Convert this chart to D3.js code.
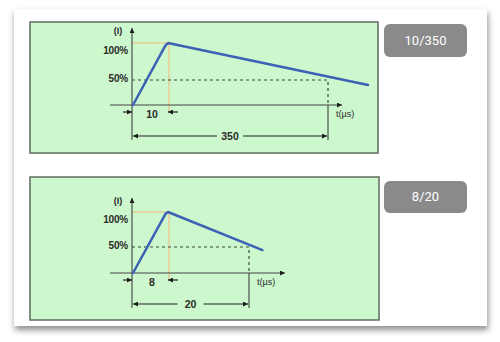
<!DOCTYPE html>
<html>
<head>
<meta charset="utf-8">
<script src="https://cdn.jsdelivr.net/npm/d3@7"></script>
<style>
  body { margin: 0; background: #fff; }
</style>
</head>
<body>
<div id="chart"></div>
<script>
// pulse waveform data (t in µs, I in % of peak)
const badgeLabels = ["10/350", "8/20"];
const pulseT_10_350 = [0, 9.2, 10, 435];
const pulseI_10_350 = [0, 96, 100, 40];
const pulseT_8_20 = [0, 7.4, 8, 22];
const pulseI_8_20 = [0, 97, 100, 44];
const riseTimes = [10, 8];
const halfTimes = [350, 20];
const levelValues = [100, 50];
const levelLabels = ["100%", "50%"];

const W = 500, H = 342;
const green = "#cdf7cd";
const ink = "#2b2b2b";
const font = "Liberation Sans, Arial, sans-serif";

const svg = d3.select("#chart").append("svg")
    .attr("width", W).attr("height", H);

const defs = svg.append("defs");
const shadow = defs.append("filter").attr("id", "shadow")
    .attr("x", "-5%").attr("y", "-5%").attr("width", "110%").attr("height", "115%");
shadow.append("feDropShadow")
    .attr("dx", 1).attr("dy", 4).attr("stdDeviation", 3)
    .attr("flood-color", "#000").attr("flood-opacity", 0.45);

function arrowHead(id, color) {
    defs.append("marker").attr("id", id)
        .attr("viewBox", "0 0 10 10").attr("refX", 10).attr("refY", 5)
        .attr("markerWidth", 7).attr("markerHeight", 5)
        .attr("markerUnits", "userSpaceOnUse")
        .attr("orient", "auto-start-reverse")
        .append("path").attr("d", "M0,0L10,5L0,10Z").attr("fill", color);
}
arrowHead("arr", "#1e1e1e");

// white card
svg.append("rect")
    .attr("x", 14).attr("y", 9).attr("width", 473).attr("height", 317)
    .attr("fill", "#fff").attr("filter", "url(#shadow)");

const panels = [
    { box: [30, 22, 348, 131], xr: [133, 168, 328], yr: [105, 80, 43], axisTop: 28, axisEnd: 342,
      dimY1: 112, dimY2: 136, badge: [384, 24, 83, 33],
      t: pulseT_10_350, i: pulseI_10_350 },
    { box: [30, 177, 349, 143], xr: [133, 168, 249], yr: [273, 247, 212], axisTop: 198, axisEnd: 285,
      dimY1: 280, dimY2: 304, badge: [384, 181, 83, 32],
      t: pulseT_8_20, i: pulseI_8_20 }
];

panels.forEach(function (p, k) {
    const g = svg.append("g");
    const rise = riseTimes[k], half = halfTimes[k];

    const x = d3.scaleLinear().domain([0, rise, half]).range(p.xr);
    const y = d3.scaleLinear().domain([0, 50, 100]).range(p.yr);
    const x0 = x(0) - 1, base = y(0);

    g.append("rect")
        .attr("x", p.box[0]).attr("y", p.box[1])
        .attr("width", p.box[2]).attr("height", p.box[3])
        .attr("fill", green).attr("stroke", "#5d6b5d").attr("stroke-width", 1.5);

    // orange guide lines to the peak
    g.append("path")
        .attr("d", `M${x0},${y(100)}H${x(rise) + 1}V${p.dimY1}`)
        .attr("fill", "none").attr("stroke", "#f2b77a").attr("stroke-width", 1);

    // 50% dashed level and the half-time drop
    g.append("path")
        .attr("d", `M${x0},${y(50)}H${x(half)}V${base}`)
        .attr("fill", "none").attr("stroke", "#3a4a3a").attr("stroke-width", 1.2)
        .attr("stroke-dasharray", "3,3");
    g.append("line")
        .attr("x1", x(half)).attr("x2", x(half))
        .attr("y1", base).attr("y2", p.dimY2 + 4)
        .attr("stroke", "#333").attr("stroke-width", 1);

    // axes
    g.append("line")
        .attr("x1", x0).attr("x2", x0)
        .attr("y1", p.dimY2 + 4).attr("y2", p.axisTop)
        .attr("stroke", "#333").attr("stroke-width", 1)
        .attr("marker-end", "url(#arr)");
    g.append("line")
        .attr("x1", 110).attr("x2", p.axisEnd)
        .attr("y1", base).attr("y2", base)
        .attr("stroke", "#444").attr("stroke-width", 1)
        .attr("marker-end", "url(#arr)");

    g.append("text")
        .attr("x", 118).attr("y", p.axisTop + 4)
        .attr("text-anchor", "middle").attr("dominant-baseline", "middle")
        .attr("font-family", font)
        .attr("font-size", 9).attr("font-weight", "bold").attr("fill", ink)
        .text("(I)");

    g.selectAll(".lvl")
        .data(levelValues)
        .join("text")
        .attr("x", 128)
        .attr("y", (d, j) => y(d) + (j === 0 ? 8 : -1))
        .attr("text-anchor", "end").attr("dominant-baseline", "middle")
        .attr("font-family", font)
        .attr("font-size", 10).attr("font-weight", "bold").attr("fill", ink)
        .attr("letter-spacing", -0.2)
        .text((d, j) => levelLabels[j]);

    g.append("text")
        .attr("x", x(half) + 8).attr("y", base + 10)
        .attr("dominant-baseline", "middle")
        .attr("font-family", font)
        .attr("font-size", 9).attr("fill", ink)
        .text("t(µs)");

    // pulse curve
    const pts = p.t.map((t, j) => [t, p.i[j]]);
    g.append("path")
        .datum(pts)
        .attr("fill", "none").attr("stroke", "#3d62b5").attr("stroke-width", 2.5)
        .attr("stroke-linejoin", "round").attr("stroke-linecap", "round")
        .attr("d", d3.line().x(d => x(d[0])).y(d => y(d[1])));

    // rise time dimension
    g.append("line")
        .attr("x1", x0 - 9).attr("x2", x0)
        .attr("y1", p.dimY1).attr("y2", p.dimY1)
        .attr("stroke", "#222").attr("stroke-width", 1.2)
        .attr("marker-end", "url(#arr)");
    g.append("line")
        .attr("x1", x(rise) + 10).attr("x2", x(rise))
        .attr("y1", p.dimY1).attr("y2", p.dimY1)
        .attr("stroke", "#222").attr("stroke-width", 1.2)
        .attr("marker-end", "url(#arr)");
    g.append("text")
        .attr("x", (x0 + x(rise)) / 2 + 2).attr("y", p.dimY1 + 3)
        .attr("text-anchor", "middle").attr("dominant-baseline", "middle")
        .attr("font-family", font)
        .attr("font-size", 10.5).attr("font-weight", "bold").attr("fill", ink)
        .text(rise);

    // half time dimension
    g.append("line")
        .attr("x1", x0 + 1).attr("x2", x(half) - 1)
        .attr("y1", p.dimY2).attr("y2", p.dimY2)
        .attr("stroke", "#222").attr("stroke-width", 1)
        .attr("marker-start", "url(#arr)").attr("marker-end", "url(#arr)");
    const mid = (x0 + x(half)) / 2;
    g.append("rect")
        .attr("x", mid - 13).attr("y", p.dimY2 - 5)
        .attr("width", 26).attr("height", 10).attr("fill", green);
    g.append("text")
        .attr("x", mid).attr("y", p.dimY2 + 1)
        .attr("text-anchor", "middle").attr("dominant-baseline", "middle")
        .attr("font-family", font)
        .attr("font-size", 10.5).attr("font-weight", "bold").attr("fill", ink)
        .text(half);

    // badge
    svg.append("rect")
        .attr("x", p.badge[0]).attr("y", p.badge[1])
        .attr("width", p.badge[2]).attr("height", p.badge[3])
        .attr("rx", 6).attr("fill", "#8a8a8a");
    svg.append("text")
        .attr("x", p.badge[0] + p.badge[2] / 2).attr("y", p.badge[1] + p.badge[3] / 2 + 1)
        .attr("text-anchor", "middle").attr("dominant-baseline", "middle")
        .attr("font-family", "Roboto, Liberation Sans, sans-serif")
        .attr("font-size", 13).attr("fill", "#fff")
        .text(badgeLabels[k]);
});
</script>
</body>
</html>
